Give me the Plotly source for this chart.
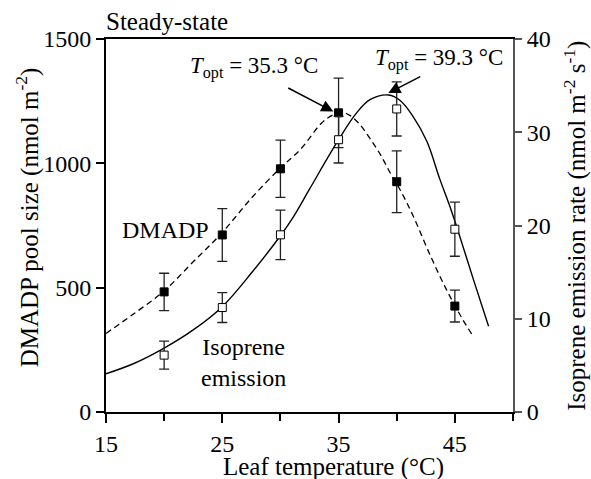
import plotly.graph_objects as go

# ---- data ----
temps = [20, 25, 30, 35, 40, 45]
dmadp = [483, 712, 978, 1203, 926, 426]
dmadp_err = [75, 106, 115, 140, 124, 64]
iso = [6.1, 11.2, 19.0, 29.2, 32.5, 19.6]
iso_err = [1.5, 1.6, 2.65, 2.5, 2.9, 2.9]

# fitted curves
dmadp_fit_x = [15.0, 17.3, 20.0, 22.5, 25.0, 27.5, 30.0, 31.7, 33.5, 34.4, 35.3, 36.0, 36.8, 37.7,
               38.6, 39.4, 40.3, 41.4, 42.9, 44.3, 45.7, 46.5]
dmadp_fit_y = [316, 392, 487, 604, 722, 860, 982, 1055, 1160, 1192, 1205, 1192, 1158, 1100,
               1035, 965, 893, 790, 628, 490, 370, 310]
iso_fit_x = [15.0, 17.4, 20.0, 22.5, 25.0, 27.5, 30.0, 31.1, 32.5, 35.0, 36.5, 37.7, 39.3, 40.3,
             41.4, 42.6, 43.7, 44.5, 45.15, 46.6, 47.9]
iso_fit_y = [4.1, 5.2, 6.85, 8.8, 11.3, 14.9, 18.9, 20.9, 23.9, 29.2, 32.0, 33.5, 34.0, 33.4,
             31.7, 29.0, 25.0, 22.3, 19.9, 14.2, 9.2]

x_ticks = [15, 25, 35, 45]
x_ticktext = ["15", "25", "35", "45"]
y_ticks = [0, 500, 1000, 1500]
y2_ticks = [0, 10, 20, 30, 40]

FONT = "Liberation Serif"


def fnt(size):
    return dict(family=FONT, size=size, color="black")


fig = go.Figure()

fig.add_trace(go.Scatter(x=dmadp_fit_x, y=dmadp_fit_y, mode="lines", line_shape="spline",
                         line=dict(color="black", width=1.3, dash="6px,4px"),
                         hoverinfo="skip", showlegend=False))
fig.add_trace(go.Scatter(x=iso_fit_x, y=iso_fit_y, mode="lines", line_shape="spline", yaxis="y2",
                         line=dict(color="black", width=1.4),
                         hoverinfo="skip", showlegend=False))
fig.add_trace(go.Scatter(x=temps, y=dmadp, mode="markers",
                         marker=dict(symbol="square", size=8, color="black",
                                     line=dict(color="black", width=1)),
                         error_y=dict(type="data", array=dmadp_err, color="#222", thickness=1.3, width=5),
                         showlegend=False))
fig.add_trace(go.Scatter(x=temps, y=iso, mode="markers", yaxis="y2",
                         marker=dict(symbol="square", size=8, color="white",
                                     line=dict(color="black", width=1)),
                         error_y=dict(type="data", array=iso_err, color="#222", thickness=1.3, width=5),
                         showlegend=False))

fig.update_layout(
    width=591, height=479,
    margin=dict(l=106, r=78, t=39, b=67),
    paper_bgcolor="white", plot_bgcolor="white",
    font=fnt(24),
    xaxis=dict(range=[15, 50], tickvals=x_ticks, ticktext=x_ticktext, ticks="outside",
               ticklen=9, tickwidth=1.5, tickcolor="black", showline=True, linecolor="black",
               linewidth=2, mirror=True, showgrid=False, zeroline=False, tickfont=fnt(24),
               minor=dict(tick0=15, dtick=5, ticks="outside", ticklen=7, tickwidth=1.5,
                          tickcolor="black", showgrid=False)),
    yaxis=dict(range=[0, 1500], tickvals=y_ticks, ticks="outside", ticklen=8, tickwidth=1.5,
               tickcolor="black", showline=True, linecolor="black", linewidth=2,
               showgrid=False, zeroline=False, tickfont=fnt(24)),
    yaxis2=dict(range=[0, 40], tickvals=y2_ticks, ticks="outside", ticklen=7, tickwidth=1.5,
                tickcolor="#555", showline=True, linecolor="#555", linewidth=2,
                overlaying="y", side="right", showgrid=False, zeroline=False, tickfont=fnt(24)),
)

ann = []
ann.append(dict(text="Steady-state", xref="paper", yref="paper", x=-0.006, y=1.046,
                xanchor="left", yanchor="middle", showarrow=False, font=fnt(25)))
ann.append(dict(text="Leaf temperature (°C)", xref="paper", yref="paper", x=0.56, y=-0.148,
                xanchor="center", yanchor="middle", showarrow=False, font=fnt(25)))
ann.append(dict(text="DMADP pool size (nmol m<sup>-2</sup>)", xref="paper", yref="paper",
                x=-0.192, y=0.5215, xanchor="center", yanchor="middle", textangle=-90,
                showarrow=False, font=fnt(25)))
ann.append(dict(text="Isoprene emission rate (nmol m<sup>-2</sup> s<sup>-1</sup>)", xref="paper",
                yref="paper", x=1.153, y=0.5, xanchor="center", yanchor="middle", textangle=-90,
                showarrow=False, font=fnt(25)))
ann.append(dict(text="DMADP", xref="paper", yref="paper", x=0.145, y=0.488,
                xanchor="center", yanchor="middle", showarrow=False, font=fnt(24)))
ann.append(dict(text="Isoprene<br>emission", xref="paper", yref="paper", x=0.337, y=0.1335,
                xanchor="center", yanchor="middle", showarrow=False, font=fnt(24),
                align="center"))
ann.append(dict(text="<i>T</i><sub>opt</sub> = 35.3 °C", xref="paper", yref="paper", x=0.3636, y=0.923,
                xanchor="center", yanchor="middle", showarrow=False, font=fnt(23)))
ann.append(dict(text="<i>T</i><sub>opt</sub> = 39.3 °C", xref="paper", yref="paper", x=0.818, y=0.944,
                xanchor="center", yanchor="middle", showarrow=False, font=fnt(23)))
# arrows
ann.append(dict(text="", x=34.55, y=1208, xref="x", yref="y", ax=-46.6, ay=-24.4,
                showarrow=True, arrowhead=2, arrowsize=1.6, arrowwidth=1.5, arrowcolor="black"))
ann.append(dict(text="", x=39.28, y=34.2, xref="x", yref="y2", ax=33.4, ay=-17.3,
                showarrow=True, arrowhead=2, arrowsize=1.6, arrowwidth=1.5, arrowcolor="black"))
fig.update_layout(annotations=ann)

fig.write_html("out.html", config={"displayModeBar": False})
